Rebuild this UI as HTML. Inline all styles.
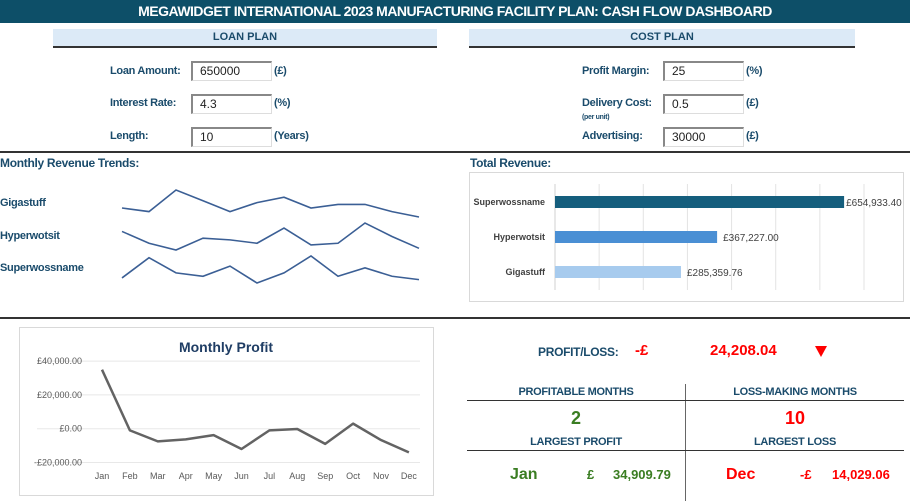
<!DOCTYPE html>
<html><head><meta charset="utf-8"><style>
body{margin:0;width:910px;height:501px;overflow:hidden;background:#fff;font-family:"Liberation Sans Narrow","Liberation Sans",sans-serif;position:relative}
.a{position:absolute;white-space:nowrap}
.lbl{font-weight:bold;color:#1a4b6b;font-size:11px;letter-spacing:-0.3px}
.inp{position:absolute;border-top:2px solid #888;border-left:2px solid #888;border-right:1px solid #ddd;border-bottom:1px solid #ddd;font-size:12px;line-height:17px;padding-left:7px;box-sizing:border-box;width:81px;height:20px;color:#222}
.hd{position:absolute;background:#dceaf7;border-bottom:2px solid #333;text-align:center;font-weight:bold;color:#1a4b6b;font-size:11px;line-height:17px;height:17px}
</style></head><body>
<div class="a" style="left:0;top:0;width:910px;height:23px;background:#0d4f68;color:#fff;font-weight:bold;font-size:14px;letter-spacing:-0.5px;text-align:center;line-height:23px">MEGAWIDGET INTERNATIONAL 2023 MANUFACTURING FACILITY PLAN: CASH FLOW DASHBOARD</div>
<div class="hd" style="left:53px;top:29px;width:384px">LOAN PLAN</div>
<div class="hd" style="left:469px;top:29px;width:386px">COST PLAN</div>

<div class="a lbl" style="left:110px;top:65px">Loan Amount:</div>
<div class="inp" style="left:191px;top:61px">650000</div>
<div class="a lbl" style="left:274px;top:65px">(£)</div>
<div class="a lbl" style="left:110px;top:97px">Interest Rate:</div>
<div class="inp" style="left:191px;top:94px">4.3</div>
<div class="a lbl" style="left:274px;top:97px">(%)</div>
<div class="a lbl" style="left:110px;top:130px">Length:</div>
<div class="inp" style="left:191px;top:127px">10</div>
<div class="a lbl" style="left:274px;top:130px">(Years)</div>

<div class="a lbl" style="left:582px;top:65px">Profit Margin:</div>
<div class="inp" style="left:663px;top:61px">25</div>
<div class="a lbl" style="left:746px;top:65px">(%)</div>
<div class="a lbl" style="left:582px;top:97px">Delivery Cost:</div>
<div class="a lbl" style="left:582px;top:114px;font-size:7px">(per unit)</div>
<div class="inp" style="left:663px;top:94px">0.5</div>
<div class="a lbl" style="left:746px;top:97px">(£)</div>
<div class="a lbl" style="left:582px;top:130px">Advertising:</div>
<div class="inp" style="left:663px;top:127px">30000</div>
<div class="a lbl" style="left:746px;top:130px">(£)</div>

<div class="a" style="left:0;top:151px;width:910px;height:2px;background:#333"></div>
<div class="a lbl" style="left:0;top:156px;font-size:12px">Monthly Revenue Trends:</div>
<div class="a lbl" style="left:470px;top:156px;font-size:12px">Total Revenue:</div>
<div class="a lbl" style="left:0;top:197px">Gigastuff</div>
<div class="a lbl" style="left:0;top:230px">Hyperwotsit</div>
<div class="a lbl" style="left:0;top:262px">Superwossname</div>
<svg class="a" id="spark" style="left:0;top:0" width="460" height="300"></svg>

<div class="a" style="left:469px;top:172px;width:433px;height:128px;border:1px solid #d9d9d9"></div>
<svg class="a" id="bars" style="left:0;top:0" width="910" height="310"></svg>

<div class="a" style="left:0;top:317px;width:910px;height:2px;background:#333"></div>
<div class="a" style="left:19px;top:327px;width:413px;height:167px;border:1px solid #d9d9d9"></div>
<svg class="a" id="profit" style="left:0;top:0" width="460" height="501"></svg>

<div class="a lbl" style="left:538px;top:345px;font-family:'Liberation Sans',sans-serif;font-size:12px">PROFIT/LOSS:</div>
<div class="a" style="left:635px;top:342px;color:#f00;font-weight:bold;font-size:15px;font-family:'Liberation Sans',sans-serif">-£</div>
<div class="a" style="left:710px;top:342px;color:#f00;font-weight:bold;font-size:15px;font-family:'Liberation Sans',sans-serif">24,208.04</div>
<div class="a" style="left:815px;top:346px;width:0;height:0;border-left:6px solid transparent;border-right:6px solid transparent;border-top:11px solid #f00"></div>

<div class="a" style="left:685px;top:384px;width:1px;height:117px;background:#666"></div>
<div class="a" style="left:467px;top:400px;width:437px;height:1px;background:#333"></div>
<div class="a" style="left:467px;top:450px;width:437px;height:1px;background:#333"></div>
<div class="a lbl" style="left:467px;width:218px;text-align:center;top:386px;font-size:11px;font-family:'Liberation Sans',sans-serif">PROFITABLE MONTHS</div>
<div class="a lbl" style="left:686px;width:218px;text-align:center;top:386px;font-size:11px;font-family:'Liberation Sans',sans-serif">LOSS-MAKING MONTHS</div>
<div class="a" style="left:467px;width:218px;text-align:center;top:408px;color:#3a7d22;font-weight:bold;font-size:18px;font-family:'Liberation Sans',sans-serif">2</div>
<div class="a" style="left:686px;width:218px;text-align:center;top:408px;color:#f00;font-weight:bold;font-size:18px;font-family:'Liberation Sans',sans-serif">10</div>
<div class="a lbl" style="left:467px;width:218px;text-align:center;top:436px;font-size:11px;font-family:'Liberation Sans',sans-serif">LARGEST PROFIT</div>
<div class="a lbl" style="left:686px;width:218px;text-align:center;top:436px;font-size:11px;font-family:'Liberation Sans',sans-serif">LARGEST LOSS</div>
<div class="a" style="left:510px;top:466px;color:#3a7d22;font-weight:bold;font-size:16px;font-family:'Liberation Sans',sans-serif">Jan</div>
<div class="a" style="left:587px;top:467px;color:#3a7d22;font-weight:bold;font-size:13px;font-family:'Liberation Sans',sans-serif">£</div>
<div class="a" style="left:613px;top:467px;color:#3a7d22;font-weight:bold;font-size:13px;font-family:'Liberation Sans',sans-serif">34,909.79</div>
<div class="a" style="left:726px;top:466px;color:#f00;font-weight:bold;font-size:16px;font-family:'Liberation Sans',sans-serif">Dec</div>
<div class="a" style="left:800px;top:467px;color:#f00;font-weight:bold;font-size:13px;font-family:'Liberation Sans',sans-serif">-£</div>
<div class="a" style="left:832px;top:467px;color:#f00;font-weight:bold;font-size:13px;font-family:'Liberation Sans',sans-serif">14,029.06</div>

<script>
const NS="http://www.w3.org/2000/svg";
function mk(p,t,a){const e=document.createElementNS(NS,t);for(const k in a)e.setAttribute(k,a[k]);p.appendChild(e);return e;}
// Sparkline data (relative monthly revenue)
const gigastuff=[46,44,56,50,44,49,52,46,48,48,44,41];
const hyperwotsit=[52,45,41,48,47,45,54,44,45,57,49,42];
const superwossname=[40,52,43,41,47,37,43,53,41,46,41,39];
const sparkSeries=[gigastuff,hyperwotsit,superwossname];
const sparkTop=[190,223,256];
const sp=document.getElementById('spark');
sparkSeries.forEach((s,i)=>{
  const mn=Math.min(...s),mx=Math.max(...s);
  const pts=s.map((v,j)=>(122+j*27)+','+(sparkTop[i]+27-(v-mn)/(mx-mn)*27)).join(' ');
  const pl=mk(sp,'polyline',{points:pts,fill:'none',stroke:'#3b5f95','stroke-width':1.6});
  
  
});
// Total revenue bar chart
const barCats=['Superwossname','Hyperwotsit','Gigastuff'];
const barVals=[654933.40,367227.00,285359.76];
const barLabels=['£654,933.40','£367,227.00','£285,359.76'];
const barColors=['#155e7d','#4a8fd4','#a7cbee'];
const bs=document.getElementById('bars');
const bx=v=>555+v/700000*309;
for(let g=0;g<=700000;g+=100000){mk(bs,'line',{x1:bx(g),x2:bx(g),y1:184,y2:290,stroke:'#e3e3e3'});}
mk(bs,'line',{x1:555,x2:555,y1:184,y2:290,stroke:'#d0d0d0'});
barCats.forEach((c,i)=>{
  const yc=202+i*35;
  const r=mk(bs,'rect',{x:555,y:yc-6,width:bx(barVals[i])-555,height:12,fill:barColors[i]});
  
  
  const t=mk(bs,'text',{x:545,y:yc+3,'text-anchor':'end','font-size':9,'font-weight':'bold',fill:'#404040','font-family':'Liberation Sans, sans-serif'});t.textContent=c;
  
  
  const v=mk(bs,'text',{x:bx(barVals[i])+(i==0?2:6),y:yc+4,'font-size':10,fill:'#404040','font-family':'Liberation Sans Narrow, Liberation Sans, sans-serif'});v.textContent=barLabels[i];
  
  
});
// Monthly profit line chart
const months=['Jan','Feb','Mar','Apr','May','Jun','Jul','Aug','Sep','Oct','Nov','Dec'];
const profit=[34909.79,-1000,-7500,-6300,-3800,-12000,-1000,-200,-9000,3000,-6700,-14029.06];
const yTicks=[40000,20000,0,-20000];
const yTickLabels=['£40,000.00','£20,000.00','£0.00','-£20,000.00'];
const pf=document.getElementById('profit');
const py=v=>428.7-v/20000*33.8;
const px=i=>102+i*27.9;
const tt=mk(pf,'text',{x:226,y:352,'text-anchor':'middle','font-size':14,'font-weight':'bold',fill:'#1f3d64','font-family':'Liberation Sans, sans-serif'});tt.textContent='Monthly Profit';


yTicks.forEach((v,i)=>{
  mk(pf,'line',{x1:37,x2:420,y1:py(v),y2:py(v),stroke:'#e8e8e8','stroke-width':1});
  const t=mk(pf,'text',{x:82,y:py(v)+3,'text-anchor':'end','font-size':9,fill:'#595959','font-family':'Liberation Sans Narrow, Liberation Sans, sans-serif'});t.textContent=yTickLabels[i];
  
  
});
months.forEach((m,i)=>{
  const t=mk(pf,'text',{x:px(i),y:479,'text-anchor':'middle','font-size':9,fill:'#595959','font-family':'Liberation Sans Narrow, Liberation Sans, sans-serif'});t.textContent=m;
  
  
});
const pl=mk(pf,'polyline',{points:profit.map((v,i)=>px(i)+','+py(v)).join(' '),fill:'none',stroke:'#636363','stroke-width':2.5,'stroke-linejoin':'round'});


</script>
</body></html>
